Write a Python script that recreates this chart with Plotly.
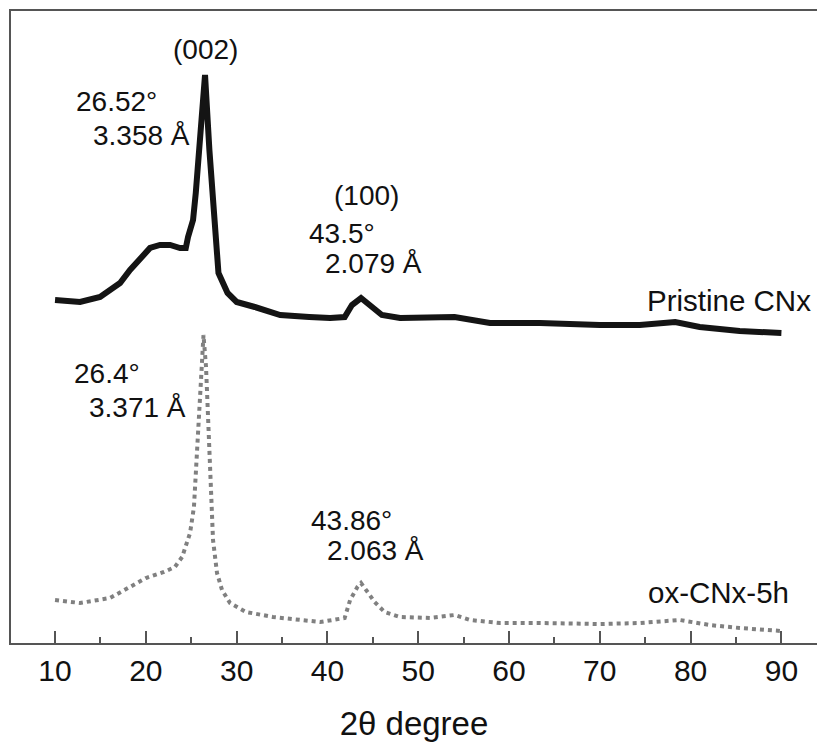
import plotly.graph_objects as go

# Pristine CNx (2theta, intensity a.u.)
pristine_x = [10.0, 12.75, 14.96, 17.16, 18.26, 19.36, 20.46, 21.56, 22.67, 23.77, 24.4, 24.65,
              25.2, 25.5, 26.0, 26.52, 27.0, 27.5, 28.0, 29.0, 30.0, 32.0, 34.0, 34.8, 38.0,
              40.3, 41.9, 42.7, 43.7, 44.7, 46.0, 48.0, 50.2, 54.0, 57.9, 63.4, 70.0, 74.4,
              78.3, 81.0, 85.4, 90.0]
pristine_y = [343, 341, 346, 360, 373, 385, 395, 398, 398, 395, 395, 406,
              423, 450, 500, 568, 493, 426, 370, 350, 341, 336, 331, 328, 326,
              325, 326, 338, 345, 338, 328, 325, 325, 326, 320, 320, 318, 318,
              321, 316, 312, 310]

# ox-CNx-5h
ox_x = [10.0, 12.75, 16.06, 18.04, 20.02, 22.0, 23.2, 24.0, 24.87, 25.3, 25.64, 25.97, 26.35,
        26.63, 26.85, 27.07, 27.4, 27.84, 28.39, 29.27, 31.04, 34.0, 37.0, 39.2, 41.9, 42.5,
        43.3, 43.7, 44.5, 45.2, 46.3, 48.0, 51.3, 54.0, 55.7, 59.0, 63.4, 70.0, 74.4, 78.8,
        82.1, 85.4, 90.0]
ox_y = [43, 40, 45, 55, 65, 71, 76, 86, 110, 136, 193, 260, 308,
        276, 226, 160, 103, 70, 53, 40, 31, 26, 23, 21, 25, 43,
        56, 60, 50, 41, 31, 26, 25, 28, 23, 20, 20, 19, 20, 23,
        18, 15, 12]

tick_vals = [10, 20, 30, 40, 50, 60, 70, 80, 90]

# annotation texts with anchor positions (data coords) and font size
labels = [
    ("(002)", 26.52, 594, "center", 28),
    ("26.52°", 12.09, 542, "left", 28),
    ("3.358 Å", 13.96, 508, "left", 28),
    ("(100)", 44.25, 448, "center", 28),
    ("43.5°", 37.75, 410, "left", 28),
    ("2.079 Å", 39.52, 380, "left", 28),
    ("Pristine CNx", 74.98, 343, "left", 29.5),
    ("26.4°", 11.87, 270, "left", 28),
    ("3.371 Å", 13.52, 236, "left", 28),
    ("43.86°", 37.97, 123, "left", 28),
    ("2.063 Å", 39.74, 93, "left", 28),
    ("ox-CNx-5h", 75.09, 51, "left", 29.5),
]

FONT = "Arial, 'Liberation Sans', sans-serif"

fig = go.Figure()
fig.add_trace(go.Scatter(x=pristine_x, y=pristine_y, mode="lines",
                         line=dict(color="#141414", width=6), showlegend=False))
fig.add_trace(go.Scatter(x=ox_x, y=ox_y, mode="lines",
                         line=dict(color="#808080", width=4, dash="dot"), showlegend=False))

for text, x, y, anc, fs in labels:
    fig.add_annotation(x=x, y=y, xref="x", yref="y", text=text, showarrow=False,
                       xanchor=anc, yanchor="middle",
                       font=dict(family=FONT, size=fs, color="#111111"))

fig.update_layout(
    width=817, height=743,
    margin=dict(l=11, r=0, t=11, b=100),
    paper_bgcolor="white", plot_bgcolor="white",
    font=dict(family=FONT, color="#111111"),
    xaxis=dict(range=[5.15, 93.92], tickvals=tick_vals, ticks="inside", ticklen=12,
               tickwidth=2, tickcolor="#555555", showline=True, linecolor="#555555",
               linewidth=2, mirror=True, showgrid=False, zeroline=False,
               tickfont=dict(family=FONT, size=30, color="#111111"),
               ticklabelstandoff=0,
               minor=dict(dtick=5, tick0=5, ticks="inside", ticklen=6, tickwidth=2,
                          tickcolor="#555555", showgrid=False),
               title=dict(text="2θ degree", font=dict(family=FONT, size=33, color="#111111"),
                          standoff=26)),
    yaxis=dict(range=[0, 632], showticklabels=False, ticks="", showline=True,
               linecolor="#555555", linewidth=2, showgrid=False, zeroline=False),
)

fig.write_html("out.html")
